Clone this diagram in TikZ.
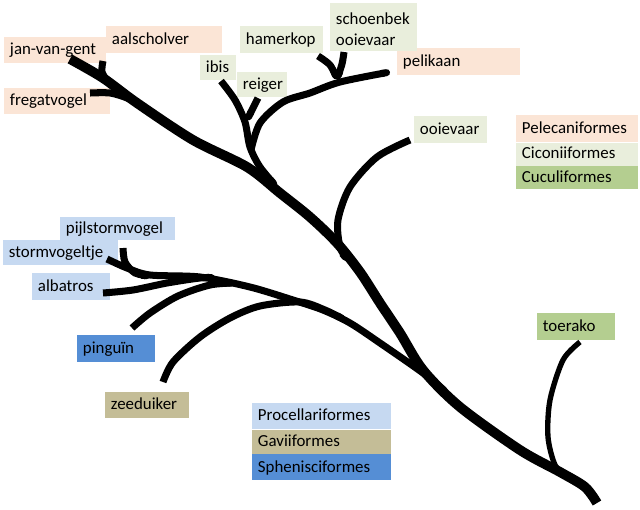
\documentclass[tikz,border=0pt]{standalone}
\usepackage{fontspec}
\setmainfont{Carlito}
\usetikzlibrary{positioning, arrows.meta}

\definecolor{pelecan}{HTML}{FBE5D6}
\definecolor{ciconi}{HTML}{E9EEDC}
\definecolor{cuculi}{HTML}{B4CE90}
\definecolor{procel}{HTML}{C6D9F1}
\definecolor{gavi}{HTML}{C4BD97}
\definecolor{spheni}{HTML}{558ED5}

\tikzset{
  bird/.style={fill=#1, inner xsep=0.15cm, inner ysep=0, align=left,
    text height=9pt, text depth=2pt, font=\fontsize{12}{15}\selectfont},
  trunk/.style={line width=7pt, line join=round},
  branch/.style={line width=5pt, line join=round, -{Round Cap[]}},
  twig/.style={line width=3.8pt, line join=round, -{Round Cap[]}}
}

\begin{document}
\begin{tikzpicture}[x=0.025cm, y=-0.025cm]
  \useasboundingbox (0,0) rectangle (640,509);

  % Pelecaniformes
  \node[bird=pelecan, text width=2.25cm, minimum height=0.65cm] (jan) at (55,50) {jan-van-gent};
  \node[bird=pelecan, text width=2.6cm, minimum height=0.675cm] (aal) at (164,39.5) {aalscholver};
  \node[bird=pelecan, text width=2.35cm, minimum height=0.65cm] (freg) at (57,101) {fregatvogel};
  \node[bird=pelecan, text width=2.775cm, minimum height=0.675cm] (pel) at (458.5,61.5) {pelikaan};

  % Ciconiiformes
  \node[bird=ciconi, text width=0.6cm, minimum height=0.625cm] (ibis) at (218,67.5) {ibis};
  \node[bird=ciconi, text width=0.95cm, minimum height=0.625cm] (reiger) at (262,84.5) {reiger};
  \node[bird=ciconi, text width=1.775cm, minimum height=0.675cm] (hamer) at (281.5,39.5) {hamerkop};
  \node[bird=ciconi, text width=1.875cm, minimum height=1.175cm, text depth=13pt] (schoen) at (373.5,27) {schoenbek\\ooievaar};
  \node[bird=ciconi, text width=1.525cm, minimum height=0.675cm] (ooie) at (450.5,129.5) {ooievaar};

  % Procellariiformes, Sphenisciformes, Gaviiformes
  \node[bird=procel, text width=2.575cm, minimum height=0.575cm] (pijl) at (117.5,228.5) {pijlstormvogel};
  \node[bird=procel, text width=2.575cm, minimum height=0.625cm] (storm) at (60.5,252.5) {stormvogeltje};
  \node[bird=procel, text width=1.65cm, minimum height=0.675cm] (alba) at (71,286.5) {albatros};
  \node[bird=spheni, text width=1.65cm, minimum height=0.675cm] (ping) at (116,348.5) {pinguïn};
  \node[bird=gavi, text width=1.8cm, minimum height=0.65cm] (zee) at (147,405) {zeeduiker};

  % Cuculiformes
  \node[bird=cuculi, text width=1.65cm, minimum height=0.675cm] (toe) at (576,326.5) {toerako};

  % Legends
  \node[bird=pelecan, text width=2.75cm, minimum height=0.675cm] (legpel) at (577,128.5) {Pelecaniformes};
  \node[bird=ciconi, text width=2.75cm, minimum height=0.575cm, below=0pt of legpel] (legcic) {Ciconiiformes};
  \node[bird=cuculi, text width=2.75cm, minimum height=0.575cm, below=0pt of legcic] (legcuc) {Cuculiformes};

  \node[bird=procel, text width=3.175cm, minimum height=0.65cm] (legproc) at (321.5,416) {Procellariformes};
  \node[bird=gavi, text width=3.175cm, minimum height=0.6cm, below=0pt of legproc] (leggav) {Gaviiformes};
  \node[bird=spheni, text width=3.175cm, minimum height=0.65cm, below=0pt of leggav] (legsph) {Sphenisciformes};

  % Branch tips
  \coordinate (tjan) at (70,59);
  \coordinate (taal) at (103,61);
  \coordinate (tfreg) at (90,93);
  \coordinate (tibis) at (221,81);
  \coordinate (treig) at (258,98);
  \coordinate (tham) at (318,56);
  \coordinate (tschoen) at (344,52);
  \coordinate (tpel) at (390,72);
  \coordinate (tooie) at (410,140);
  \coordinate (tpijl) at (123,248);
  \coordinate (tstorm) at (107,259);
  \coordinate (talb) at (103,293);
  \coordinate (tping) at (132,328);
  \coordinate (tzee) at (163,382);
  \coordinate (ttoe) at (580,342);

  % Main trunk
  \draw[trunk] plot[smooth] coordinates {(tjan) (103,78) (137,103) (193,140) (247,167) (280,193) (310,217) (337,243) (360,272) (380,303) (400,333) (423,370) (460,407) (520,450) (560,472) (585,487) (597,503)};

  % Pelecaniformes / Ciconiiformes branches
  \draw[branch] plot[smooth] coordinates {(taal) (102,72) (108,82)};
  \draw[branch] plot[smooth] coordinates {(tfreg) (110,93) (127,98) (142,106)};
  \draw[branch] plot[smooth] coordinates {(tibis) (235,100) (245,122) (250,147) (260,167) (276,186)};
  \draw[branch] (treig) -- (247,120);
  \draw[branch] plot[smooth] coordinates {(251,150) (260,123) (283,102) (310,93) (340,82) (tpel)};
  \draw[branch] plot[smooth] coordinates {(tschoen) (342,64) (337,79)};
  \draw[branch] plot[smooth] coordinates {(tham) (330,65) (337,79)};
  \draw[branch] plot[smooth] coordinates {(tooie) (377,157) (350,187) (338,220) (340,247) (348,260)};

  % Procellariiformes, pinguin, zeeduiker
  \draw[branch] plot[smooth] coordinates {(tstorm) (127,268) (150,275) (200,277) (250,287) (293,300) (323,310) (350,323) (380,343) (423,373) (447,393)};
  \draw[branch] plot[smooth] coordinates {(tpijl) (125,262) (135,273) (150,276)};
  \draw[branch] plot[smooth] coordinates {(talb) (133,290) (167,283) (200,278) (215,278)};
  \draw[branch] plot[smooth] coordinates {(tping) (150,313) (178,296) (210,285) (235,283)};
  \draw[branch] plot[smooth] coordinates {(tzee) (173,362) (200,337) (230,318) (260,306) (300,302) (325,310) (345,320)};

  % Cuculiformes
  \draw[twig] plot[smooth] coordinates {(ttoe) (563,360) (550,400) (548,437) (555,465) (566,476)};
\end{tikzpicture}
\end{document}
